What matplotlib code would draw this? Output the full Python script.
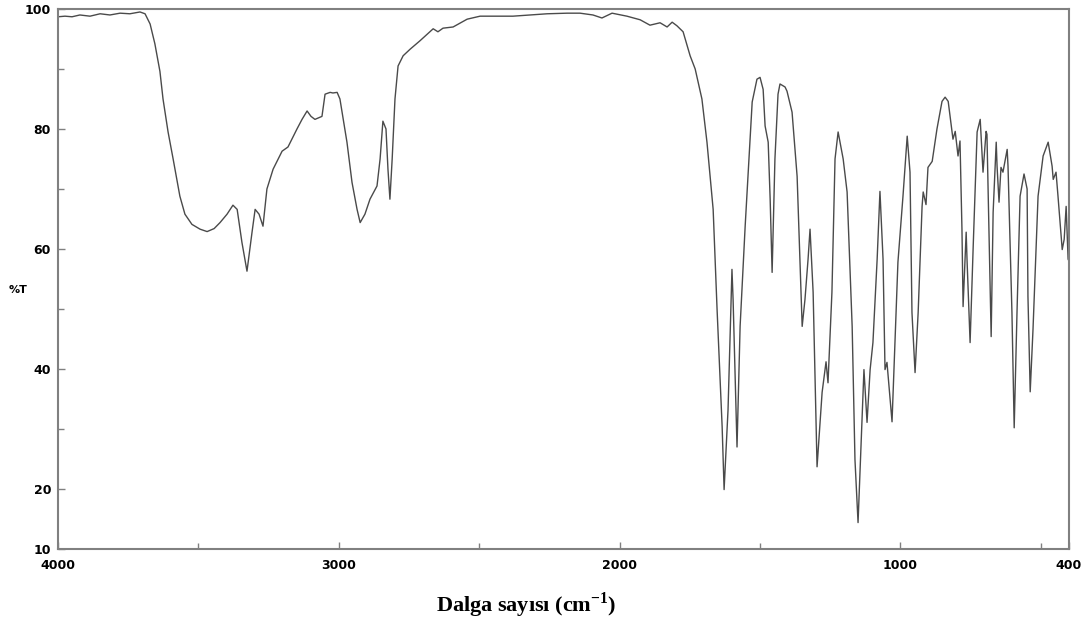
import numpy as np
import matplotlib.pyplot as plt
from matplotlib.ticker import FixedLocator

# IR spectrum: wavenumber (cm-1) and %T
wavenumber = [
    4000, 3975, 3950, 3922, 3886, 3850, 3815, 3779, 3744, 3708, 3690, 3672,
    3655, 3637, 3626, 3608, 3590, 3566, 3548, 3523, 3494, 3469, 3444, 3423,
    3398, 3377, 3362, 3345, 3327, 3309, 3298, 3284, 3270, 3256, 3234, 3202,
    3181, 3149, 3131, 3113, 3099, 3085, 3060, 3049, 3031, 3021, 3006, 2996,
    2971, 2953, 2935, 2924, 2907, 2889, 2864, 2853, 2843, 2832, 2825, 2818,
    2810, 2800, 2789, 2771, 2746, 2711, 2664, 2647, 2629, 2593, 2543, 2497,
    2437, 2380, 2258, 2187, 2141, 2095, 2063, 2027, 1974, 1927, 1892, 1856,
    1831, 1813, 1796, 1774, 1749, 1731, 1707, 1689, 1667, 1653, 1635, 1628,
    1614, 1600, 1596, 1582, 1571, 1553, 1528, 1511, 1500, 1489, 1482, 1471,
    1464, 1457, 1447, 1436, 1429, 1411, 1404, 1386, 1368, 1350, 1340, 1329,
    1322, 1311, 1297, 1279, 1265, 1258, 1244, 1233, 1222, 1204, 1190, 1172,
    1162, 1151, 1137, 1130, 1119, 1108, 1098, 1083, 1073, 1062, 1055, 1048,
    1030, 1009, 991, 976, 966, 959, 948, 937, 923, 919, 909, 902,
    887, 870, 852, 841, 830, 813, 805, 795, 788, 781, 777, 766,
    763, 752, 741, 727, 716, 706, 695, 692, 677, 670, 659, 656,
    649, 642, 635, 620, 617, 603, 595, 585, 574, 560, 549, 546,
    538, 528, 510, 492, 474, 460, 456, 446, 439, 424, 417, 410,
    403, 400,
]
transmittance = [
    98.7, 98.8, 98.7, 99.0, 98.8, 99.2, 99.0, 99.3, 99.2, 99.5, 99.2, 97.5,
    94.2, 89.6, 85.0, 79.5, 75.0, 68.8, 65.8, 64.1, 63.3, 62.9, 63.4, 64.4,
    65.8, 67.3, 66.6, 61.1, 56.3, 62.8, 66.6, 65.8, 63.8, 70.0, 73.3, 76.3,
    77.0, 80.0, 81.6, 83.0, 82.1, 81.6, 82.1, 85.8, 86.1, 86.0, 86.1, 85.0,
    77.8, 71.1, 66.6, 64.4, 65.8, 68.3, 70.5, 75.0, 81.3, 80.0, 73.3, 68.3,
    75.0, 85.0, 90.5, 92.2, 93.3, 94.7, 96.7, 96.2, 96.8, 97.0, 98.3, 98.8,
    98.8, 98.8, 99.2, 99.3, 99.3, 99.0, 98.5, 99.3, 98.8, 98.2, 97.3, 97.7,
    97.0, 97.8, 97.2, 96.2, 92.2, 90.0, 85.0, 77.8, 66.6, 49.9, 30.4, 19.9,
    33.2, 56.6, 51.6, 27.0, 47.1, 63.8, 84.5, 88.3, 88.6, 86.6, 80.5, 77.8,
    68.3, 56.1, 75.0, 85.8, 87.5, 87.0, 86.3, 82.8, 72.1, 47.1, 51.6, 58.3,
    63.3, 52.8, 23.7, 36.1, 41.2, 37.7, 52.8, 75.0, 79.5, 75.0, 69.5, 47.1,
    24.9, 14.4, 31.1, 39.9, 31.1, 39.9, 44.4, 58.3, 69.6, 58.3, 39.9, 41.1,
    31.2, 57.8, 68.8, 78.8, 72.8, 49.4, 39.4, 49.4, 67.1, 69.5, 67.4, 73.6,
    74.6, 80.0, 84.6, 85.3, 84.6, 78.3, 79.6, 75.5, 78.0, 63.3, 50.4, 62.8,
    58.3, 44.4, 60.4, 79.5, 81.6, 72.8, 79.6, 79.1, 45.4, 66.1, 77.8, 73.8,
    67.8, 73.6, 72.8, 76.6, 73.8, 49.4, 30.2, 49.4, 68.8, 72.5, 70.0, 52.1,
    36.2, 46.6, 68.8, 75.5, 77.8, 73.8, 71.6, 72.8, 68.8, 59.9, 61.6, 67.1,
    58.3, 58.0,
]

x_major = [4000, 3000, 2000, 1000, 400]
x_minor = [3500, 2500, 1500, 500]
y_major = [10, 20, 40, 60, 80, 100]
y_minor = [30, 50, 70, 90]

plt.rcParams['mathtext.fontset'] = 'custom'
plt.rcParams['mathtext.rm'] = 'Liberation Serif:bold'
plt.rcParams['mathtext.bf'] = 'Liberation Serif:bold'

fig = plt.figure(figsize=(10.86, 6.19), dpi=100)
ax = fig.add_axes([0.0534, 0.1131, 0.9309, 0.8724])

ax.plot(wavenumber, transmittance, color='#4a4a4a', linewidth=1.0)

ax.set_xlim(4000, 400)
ax.set_ylim(10, 100)

ax.xaxis.set_major_locator(FixedLocator(x_major))
ax.xaxis.set_minor_locator(FixedLocator(x_minor))
ax.yaxis.set_major_locator(FixedLocator(y_major))
ax.yaxis.set_minor_locator(FixedLocator(y_minor))

tick_font = ['Liberation Sans Narrow', 'DejaVu Sans']
ax.tick_params(which='both', direction='in', color='#808080', width=1, labelsize=9)
ax.tick_params(which='major', length=5)
ax.tick_params(which='minor', length=4)
ax.tick_params(axis='x', pad=7)
ax.tick_params(axis='y', pad=5)
for lab in ax.get_xticklabels() + ax.get_yticklabels():
    lab.set_fontfamily(tick_font)
    lab.set_fontweight('bold')

for sp in ax.spines.values():
    sp.set_color('#808080')
    sp.set_linewidth(1.5)

fig.text(0.008, 0.531, '%T', fontsize=8, fontweight='bold', family=tick_font,
         ha='left', va='center')
fig.text(0.485, 0.022, r'Dalga sayısı (cm$^{-1}$)', fontsize=16, fontweight='bold',
         family='Liberation Serif', ha='center', va='center')

fig.savefig('out.png', dpi=100)
